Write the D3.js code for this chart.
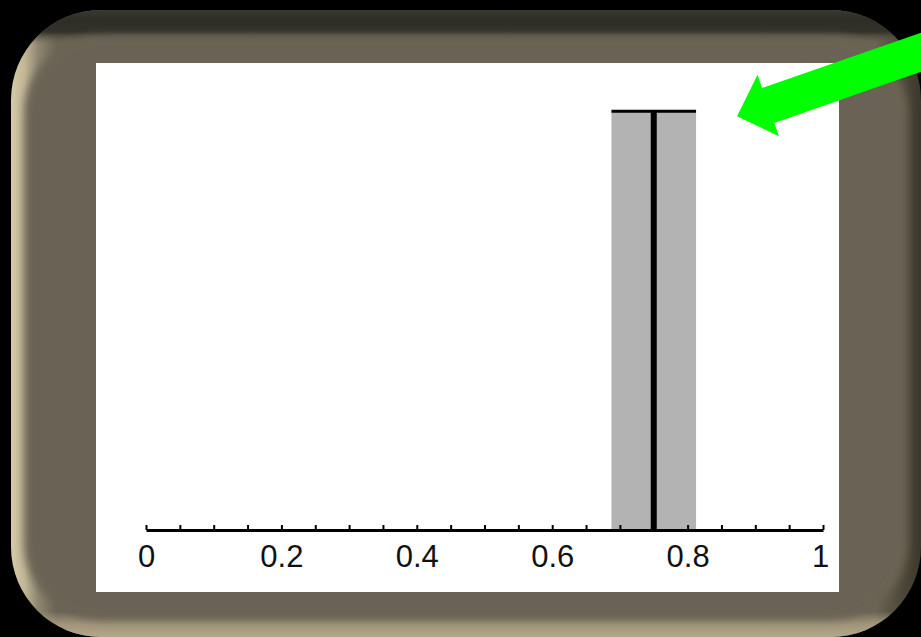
<!DOCTYPE html>
<html lang="en">
<head>
  <meta charset="UTF-8">
  <title>Bin chart</title>
  <script src="https://d3js.org/d3.v7.min.js"></script>
  <style>
    html, body { margin: 0; padding: 0; background: #000; }
    svg { display: block; }
    .tick text { font-family: "Liberation Sans", Arial, sans-serif; }
  </style>
</head>
<body>
<svg id="chart" width="921" height="637"></svg>

<script>
  // Data
  const binStart = [0.6875];
  const binEnd = [0.8125];
  const binHeight = [8];
  const meanValue = [0.75];
  const majorTicks = [0, 0.2, 0.4, 0.6, 0.8, 1];
  const majorLabels = ["0", "0.2", "0.4", "0.6", "0.8", "1"];
  const minorTicks = [0, 0.05, 0.1, 0.15, 0.2, 0.25, 0.3, 0.35, 0.4, 0.45, 0.5,
                      0.55, 0.6, 0.65, 0.7, 0.75, 0.8, 0.85, 0.9, 0.95, 1];

  const svg = d3.select("#chart");
  const defs = svg.append("defs");

  // Frame edge shading: left light / right dark, top dark / bottom light
  const hGrad = defs.append("linearGradient")
    .attr("id", "hGrad").attr("x1", 0).attr("y1", 0).attr("x2", 1).attr("y2", 0);
  [["0%", "#d6caa8"], ["1.5%", "#c2b696"], ["3%", "#8e8670"], ["5%", "#6b6454"],
   ["95%", "#6b6454"], ["98%", "#4c4738"], ["100%", "#3c382c"]]
    .forEach(s => hGrad.append("stop").attr("offset", s[0]).attr("stop-color", s[1]));

  const vGrad = defs.append("linearGradient")
    .attr("id", "vGrad").attr("x1", 0).attr("y1", 0).attr("x2", 0).attr("y2", 1);
  [["0%", "#3a3930", 1], ["1.5%", "#2f2e26", 1], ["3.5%", "#33322a", 1], ["5.5%", "#6b6454", 0],
   ["96%", "#b0a488", 0], ["98%", "#a29579", 1], ["100%", "#b4a88c", 1]]
    .forEach(s => vGrad.append("stop").attr("offset", s[0])
      .attr("stop-color", s[1]).attr("stop-opacity", s[2]));

  defs.append("filter").attr("id", "soft")
    .attr("x", "-5%").attr("y", "-5%").attr("width", "110%").attr("height", "110%")
    .append("feGaussianBlur").attr("stdDeviation", 4);

  // Frame
  const frame = { x: 11, y: 10, w: 910, h: 627, r: 90 };
  svg.append("rect")
    .attr("x", frame.x).attr("y", frame.y).attr("width", frame.w).attr("height", frame.h)
    .attr("rx", frame.r).attr("ry", frame.r)
    .attr("fill", "url(#hGrad)");
  svg.append("rect")
    .attr("x", frame.x).attr("y", frame.y).attr("width", frame.w).attr("height", frame.h)
    .attr("rx", frame.r).attr("ry", frame.r)
    .attr("fill", "url(#vGrad)");
  svg.append("rect")
    .attr("x", 24).attr("y", 36).attr("width", 884).attr("height", 584)
    .attr("rx", 78).attr("ry", 78)
    .attr("fill", "#6b6454")
    .attr("filter", "url(#soft)");

  // Plot area
  svg.append("rect")
    .attr("x", 96).attr("y", 63).attr("width", 743).attr("height", 529)
    .attr("fill", "#fff");

  const x = d3.scaleLinear().domain([0, 1]).range([146, 823]);
  const y = d3.scaleLinear().domain([0, 9]).range([530, 59]);

  const g = svg.append("g");

  // Bar
  g.selectAll("rect.bin")
    .data(binStart)
    .join("rect")
    .attr("class", "bin")
    .attr("x", d => x(d))
    .attr("width", (d, i) => x(binEnd[i]) - x(d))
    .attr("y", (d, i) => y(binHeight[i]))
    .attr("height", (d, i) => y(0) - y(binHeight[i]))
    .attr("fill", "#b3b3b3");

  // Top edge of bar
  g.selectAll("line.top")
    .data(binStart)
    .join("line")
    .attr("class", "top")
    .attr("x1", d => x(d))
    .attr("x2", (d, i) => x(binEnd[i]))
    .attr("y1", (d, i) => y(binHeight[i]))
    .attr("y2", (d, i) => y(binHeight[i]))
    .attr("stroke", "#000")
    .attr("stroke-width", 3);

  // Mean line
  g.selectAll("line.mean")
    .data(meanValue)
    .join("line")
    .attr("class", "mean")
    .attr("x1", d => x(d))
    .attr("x2", d => x(d))
    .attr("y1", y(0))
    .attr("y2", y(binHeight[0]))
    .attr("stroke", "#000")
    .attr("stroke-width", 6);

  // Minor ticks axis (ticks pointing up)
  const minorAxis = d3.axisBottom(x)
    .tickValues(minorTicks)
    .tickSizeInner(-5)
    .tickSizeOuter(0)
    .tickFormat("");
  const axG = svg.append("g")
    .attr("transform", `translate(0,${y(0)})`)
    .call(minorAxis);
  axG.select(".domain").attr("stroke", "#000").attr("stroke-width", 3);
  axG.selectAll(".tick line").attr("stroke", "#000").attr("stroke-width", 2);

  // Labels
  const labelAxis = d3.axisBottom(x)
    .tickValues(majorTicks)
    .tickSize(0)
    .tickPadding(15)
    .tickFormat((d, i) => majorLabels[i]);
  const lbG = svg.append("g")
    .attr("transform", `translate(0,${y(0)})`)
    .call(labelAxis);
  lbG.select(".domain").remove();
  lbG.selectAll(".tick text")
    .attr("font-size", 31)
    .attr("fill", "#111")
    .attr("dx", (d, i) => i === majorTicks.length - 1 ? -3 : 0);

  // Green annotation arrow pointing at the bar top
  const tipX = x(binEnd[0]) + 41;
  const tipY = y(binHeight[0]) + 5;
  const arrowPts = [[0, 0], [33, -32.5], [33, -18.5], [280, -18.5],
                    [280, 18.5], [33, 18.5], [33, 32.5]];
  svg.append("path")
    .attr("d", d3.line()(arrowPts) + "Z")
    .attr("transform", `translate(${tipX},${tipY}) rotate(-19.2)`)
    .attr("fill", "#00ff00");
</script>
</body>
</html>
